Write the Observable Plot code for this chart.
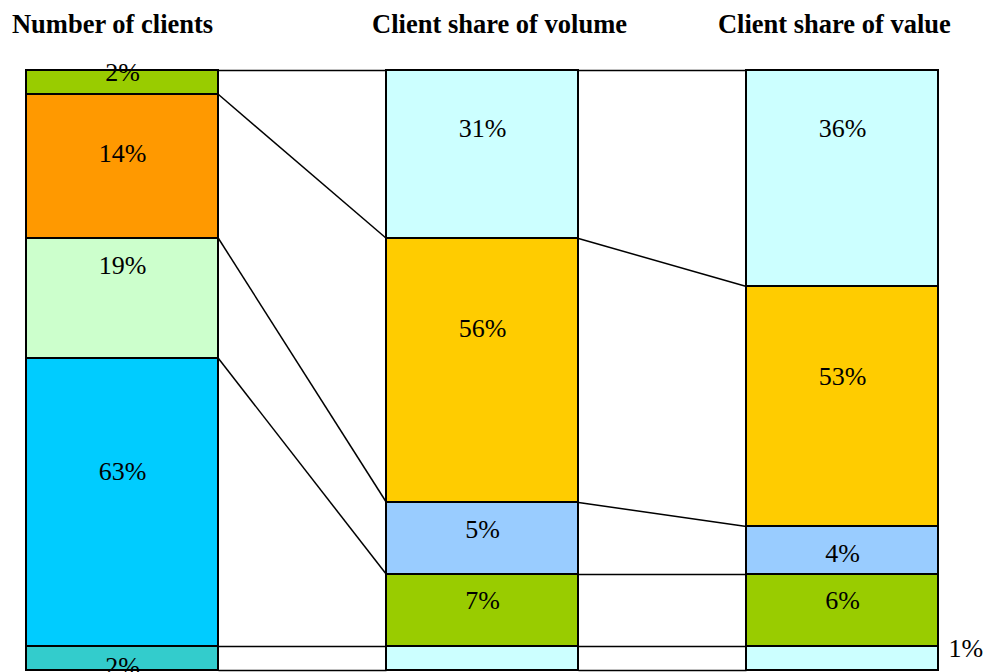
<!DOCTYPE html>
<html>
<head>
<meta charset="utf-8">
<script src="https://cdn.jsdelivr.net/npm/d3@7"></script>
<script src="https://cdn.jsdelivr.net/npm/@observablehq/plot@0.6"></script>
<style>
  html, body { margin: 0; padding: 0; background: #fff; overflow: hidden; }
</style>
</head>
<body>
<div id="chart"></div>
<script>
// ---- Data ----
const columnTitles = ["Number of clients", "Client share of volume", "Client share of value"];

// Segment labels, top to bottom
const clientsLabels = ["2%", "14%", "19%", "63%", "2%"];
const volumeLabels  = ["31%", "56%", "5%", "7%", ""];
const valueLabels   = ["36%", "53%", "4%", "6%", "1%"];

// Displayed band heights (grid rows, the original drawing is not proportional)
const clientsRows = [1, 6, 5, 12, 1];
const volumeRows  = [7, 11, 3, 3, 1];
const valueRows   = [9, 10, 2, 3, 1];

// Fill colours
const clientsColors = ["#99cc00", "#ff9900", "#ccffcc", "#00ccff", "#33cccc"];
const volumeColors  = ["#ccffff", "#ffcc00", "#99ccff", "#99cc00", "#ccffff"];
const valueColors   = ["#ccffff", "#ffcc00", "#99ccff", "#99cc00", "#ccffff"];

// ---- Layout ----
const colWidth = 192 / 360;                 // column width in column-spacing units
const labelOffsets = [                      // label centre below band top, in rows
  [0.07, 2.45, 1.15, 4.7, 0.86],
  [2.43, 3.74, 1.15, 1.11, 0],
  [2.43, 3.74, 1.14, 1.11, 0.07]
];
const outsideLabel = [[false,false,false,false,false],[false,false,false,false,false],[false,false,false,false,true]];
const titleCenters = [0.239, 1.314, 2.244];

const labels = [clientsLabels, volumeLabels, valueLabels];
const rows = [clientsRows, volumeRows, valueRows];
const colors = [clientsColors, volumeColors, valueColors];

const segments = [];
const bounds = [];
rows.forEach((r, ci) => {
  let acc = 0;
  const b = [0];
  r.forEach((h, si) => {
    segments.push({
      col: ci, x1: ci, x2: ci + colWidth, y1: acc, y2: acc + h,
      fill: colors[ci][si], label: labels[ci][si],
      ly: acc + labelOffsets[ci][si], outside: outsideLabel[ci][si]
    });
    acc += h;
    b.push(acc);
  });
  bounds.push(b);
});

const links = [];
for (let ci = 0; ci < 2; ci++) {
  bounds[ci].forEach((v, k) => {
    links.push({x1: ci + colWidth, y1: v, x2: ci + 1, y2: bounds[ci + 1][k]});
  });
}

const insideLabels = segments.filter(d => d.label && !d.outside);
const outLabels = segments.filter(d => d.label && d.outside);
const titles = columnTitles.map((t, i) => ({t, x: titleCenters[i]}));

const chart = Plot.plot({
  width: 989,
  height: 672,
  marginTop: 0, marginBottom: 0, marginLeft: 0, marginRight: 0,
  x: {domain: [0, 2 + colWidth], range: [26, 938], axis: null},
  y: {domain: [0, 25], range: [70, 670], axis: null},
  style: {background: "#fff", overflow: "hidden"},
  marks: [
    Plot.link(links, {x1: "x1", y1: "y1", x2: "x2", y2: "y2", stroke: "#000", strokeWidth: 1.5}),
    Plot.rect(segments, {x1: "x1", x2: "x2", y1: "y1", y2: "y2", fill: "fill", stroke: "#000", strokeWidth: 2}),
    Plot.text(insideLabels, {x: d => d.col + colWidth / 2, y: "ly", text: "label",
      fontFamily: "Liberation Serif", fontSize: 26, fill: "#000"}),
    Plot.text(outLabels, {x: d => d.col + colWidth, y: "ly", text: "label", dx: 10, textAnchor: "start",
      fontFamily: "Liberation Serif", fontSize: 26, fill: "#000"}),
    Plot.text(titles, {x: "x", y: () => -1.93, text: "t",
      fontFamily: "Liberation Serif", fontSize: 26.5, fontWeight: "bold", fill: "#000"})
  ]
});
document.getElementById("chart").appendChild(chart);
</script>
</body>
</html>
